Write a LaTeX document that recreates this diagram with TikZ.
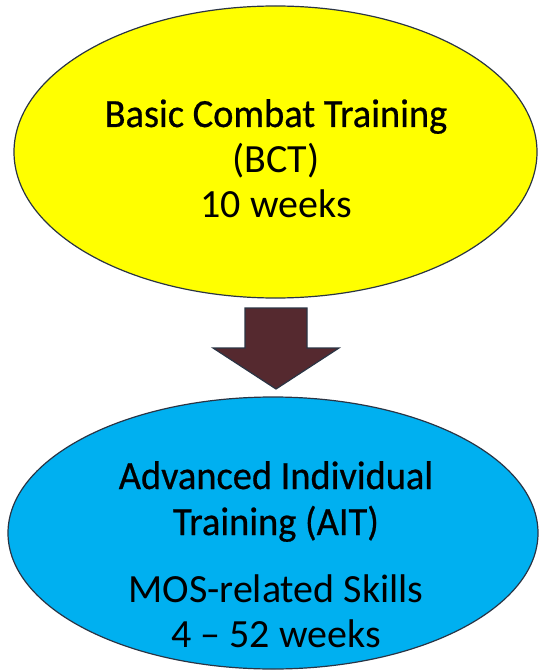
\documentclass[tikz,border=0pt]{standalone}
\usepackage{fontspec}
\setmainfont{Carlito}
\newfontfamily\headfont[FakeBold=0.6,FakeStretch=0.96]{Carlito}
\usetikzlibrary{shapes.geometric}
\definecolor{bctyellow}{HTML}{FFFF00}
\definecolor{aitblue}{HTML}{00B0F0}
\definecolor{arrowfill}{HTML}{55292F}
\definecolor{edgeblue}{HTML}{2A3444}
\begin{document}
\begin{tikzpicture}[x=1pt,y=-1pt,
  phase/.style={ellipse,draw=edgeblue,line width=1.2pt,inner sep=0pt},
  label/.style={font=\fontsize{40}{45}\selectfont,align=center,inner sep=0pt,anchor=base},
  heading/.style={label,font=\headfont\fontsize{40}{46}\selectfont}]
\useasboundingbox (0,0) rectangle (538,671);
% the two training phases
\node[phase,fill=bctyellow,minimum width=523pt,minimum height=292pt] (bct) at (275.5,152) {};
\node[phase,fill=aitblue,minimum width=530pt,minimum height=272pt] (ait) at (273,533) {};
% labels (base anchor sits on the last line)
\node[heading] (bcttitle) at (276,127) {Basic Combat Training};
\node[label] (bctinfo) at (276,217) {(BCT)\\10 weeks};
\node[heading] (aittitle) at (276,535) {Advanced Individual\\Training (AIT)};
\node[label] (aitinfo) at (276,647) {MOS-related Skills\\4 -- 52 weeks};
% block arrow between the phases
\coordinate (tip) at (276,389);
\draw[edgeblue,line width=1.2pt,fill=arrowfill,line join=miter]
  (245,308) -- (307,308) -- (307,348) -- (339,348) -- (tip)
  -- (213,348) -- (245,348) -- cycle;
\end{tikzpicture}
\end{document}
